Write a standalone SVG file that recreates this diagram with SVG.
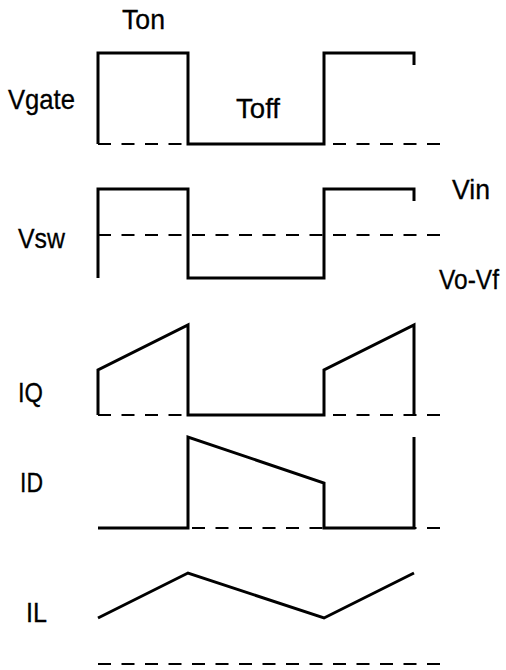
<svg xmlns="http://www.w3.org/2000/svg" width="506" height="670" viewBox="0 0 506 670">
<style>
.w{fill:none;stroke:#000;stroke-width:3;stroke-linejoin:miter;stroke-linecap:butt}
.d{fill:none;stroke:#000;stroke-width:2;stroke-dasharray:13 10.5}
.t{font-family:"Liberation Sans",Arial,sans-serif;font-size:28px;fill:#000;stroke:#000;stroke-width:0.3}
</style>
<rect width="506" height="670" fill="#fff"/>
<g id="labels">
<text class="t" x="122" y="29" textLength="43" lengthAdjust="spacingAndGlyphs">Ton</text>
<text class="t" x="236" y="118" textLength="44" lengthAdjust="spacingAndGlyphs">Toff</text>
<text class="t" x="8" y="109" textLength="67" lengthAdjust="spacingAndGlyphs">Vgate</text>
<text class="t" x="18" y="248" textLength="47" lengthAdjust="spacingAndGlyphs">Vsw</text>
<text class="t" x="452" y="199" textLength="38" lengthAdjust="spacingAndGlyphs">Vin</text>
<text class="t" x="439" y="289" textLength="60" lengthAdjust="spacingAndGlyphs">Vo-Vf</text>
<text class="t" x="18" y="402" textLength="25" lengthAdjust="spacingAndGlyphs">IQ</text>
<text class="t" x="20" y="492" textLength="23" lengthAdjust="spacingAndGlyphs">ID</text>
<text class="t" x="26" y="622" textLength="21" lengthAdjust="spacingAndGlyphs">IL</text>
</g>
<g id="vgate">
<path class="d" d="M98,144 H449"/>
<path class="w" d="M98,144 V53 H188 V144 H324 V53 H414 V65"/>
</g>
<g id="vsw">
<path class="d" d="M98,235 H449"/>
<path class="w" d="M98,278 V189 H188 V278 H324 V189 H414 V201"/>
</g>
<g id="iq">
<path class="d" d="M98,415 H449"/>
<path class="w" d="M98,415 V370 L188,325 V415 H324 V370 L414,325 V415"/>
</g>
<g id="id">
<path class="d" d="M98,528 H449"/>
<path class="w" d="M98,528 H188 V437 L324,483 V528 H414 V437"/>
</g>
<g id="il">
<path class="w" d="M98,618 L188,573 L324,618 L414,573"/>
<path class="d" d="M98,664 H449"/>
</g>
</svg>
